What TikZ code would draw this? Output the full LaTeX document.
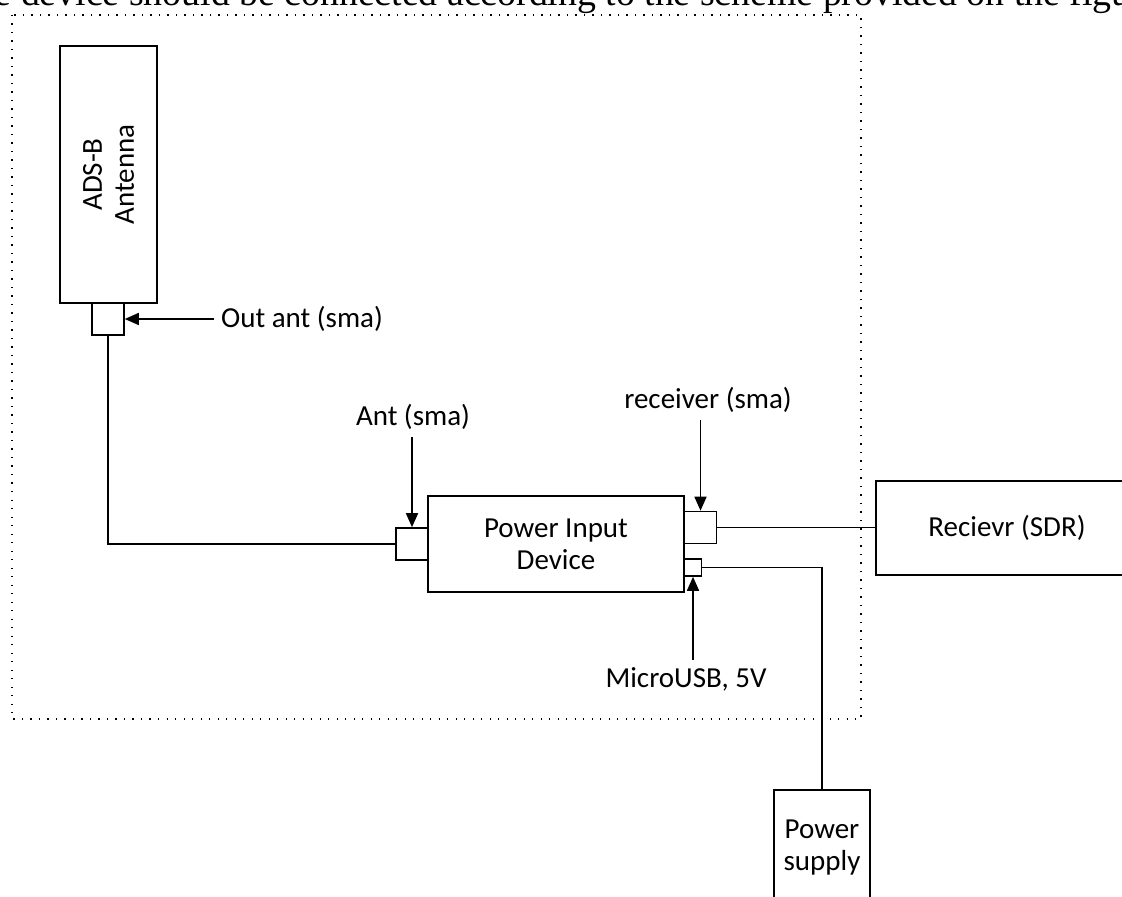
\documentclass[tikz,border=0pt]{standalone}
\usepackage{fontspec}
\setmainfont{Carlito}
\newfontfamily\captionfont{Liberation Serif}
\usetikzlibrary{arrows.meta}

\begin{document}
\begin{tikzpicture}[x=0.5pt, y=-0.5pt, >={Triangle[length=7pt, width=6pt]}, line width=0.8pt,
    font=\fontsize{14.5}{16}\selectfont,
    box/.style={draw, inner sep=0pt, align=center},
    port/.style={draw, fill=white, inner sep=0pt, minimum size=#1},
    port/.default=16pt]
    % coordinates are pixels of the original drawing (y=-0.5pt: origin top-left)
    \useasboundingbox (0,0) rectangle (1122,897);

    % --- Text above the scheme (cut by the page) ---
    \node[anchor=base west, inner sep=0pt, font=\captionfont\fontsize{18.9}{20}\selectfont] (caption) at (-6,6)
        {e device should be connected according to the scheme provided on the figu};

    % --- Dotted frame ---
    \draw[line width=0.7pt, dash pattern=on 0.7pt off 3.55pt] (12,15) rectangle (861,719);

    % --- Boxes ---
    \node[box, rotate=90, minimum width=128.5pt, minimum height=48.5pt] (antenna) at (108.5,174.5) {ADS-B\\Antenna};
    \node[box, minimum width=128pt, minimum height=48pt] (pid) at (556,544) {Power Input\\Device};
    \node[box, minimum width=131pt, minimum height=47pt] (sdr) at (1007,528) {Recievr (SDR)};
    \node[box, minimum width=48pt, minimum height=57.5pt] (psu) at (822,847.5) {Power\\supply};

    % --- Connectors (sma, usb) ---
    \node[port] (outant) at (108,319) {};
    \node[port] (antin) at (412,544) {};
    \node[port] (rxout) at (700.5,527.5) {};
    \node[port=8.5pt] (usbin) at (693,567.5) {};

    % --- Cables ---
    \draw (outant.south) |- (antin.west);
    \draw (rxout.east) -- (rxout.east -| sdr.west);
    \draw (usbin.east) -| (psu.north);

    % --- Labels with arrows ---
    \node (lblout) at (302,319) {Out ant (sma)};
    \node (lblant) at (413,417) {Ant (sma)};
    \node (lblrx) at (708,400) {receiver (sma)};
    \node (lblusb) at (686,679) {MicroUSB, 5V};

    \draw[->] (lblout.west) -- (outant.east);
    \draw[->] (lblant.south -| antin.north) -- (antin.north);
    \draw[->] (lblrx.south -| rxout.north) -- (rxout.north);
    \draw[->] (lblusb.north -| usbin.south) -- (usbin.south);

\end{tikzpicture}
\end{document}
